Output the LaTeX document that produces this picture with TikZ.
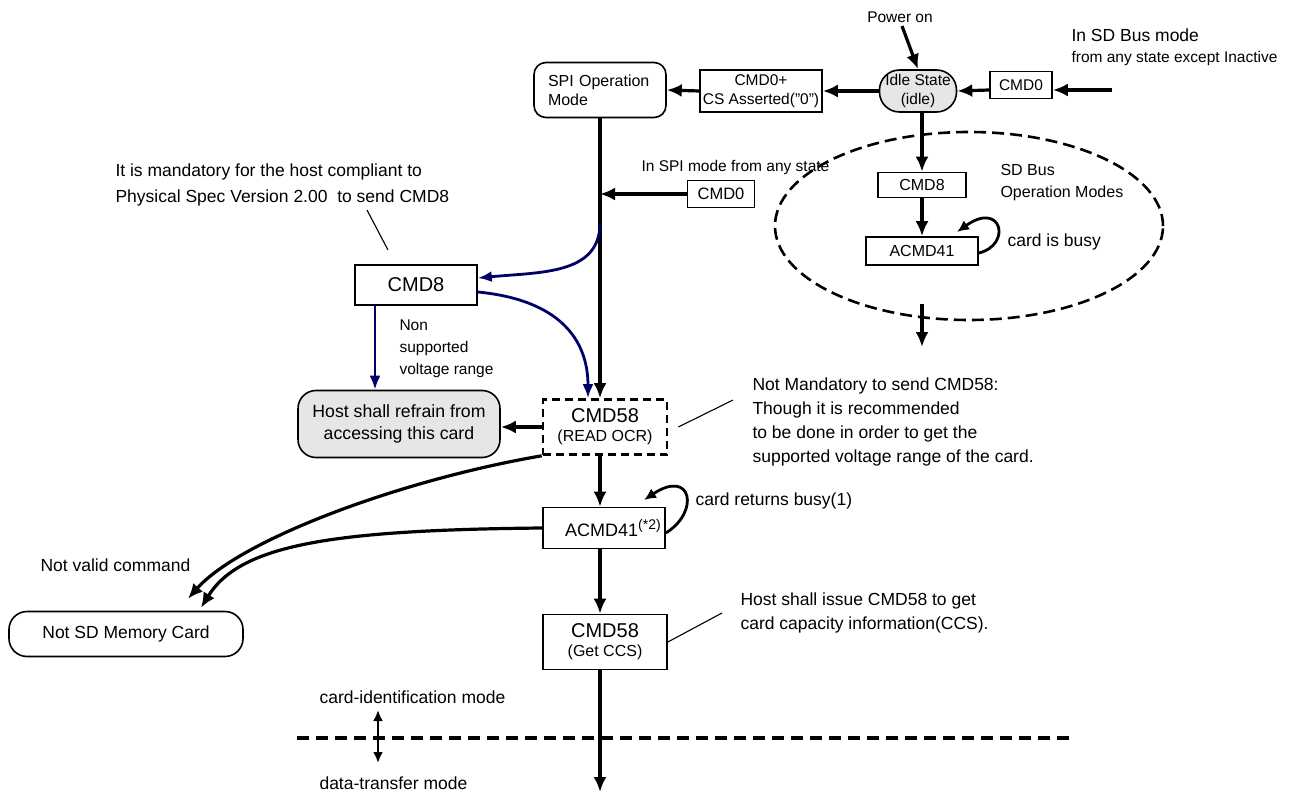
\documentclass[tikz,border=0pt]{standalone}
\usepackage{fontspec}
\setmainfont{Liberation Sans}
\usetikzlibrary{arrows.meta}

\newcommand{\szbig}{\fontsize{20}{22}\selectfont}
\newcommand{\szmid}{\fontsize{17.5}{24}\selectfont}
\newcommand{\szsmall}{\fontsize{15.5}{19}\selectfont}

\begin{document}
\begin{tikzpicture}[x=1pt, y=-1pt,
  box/.style={draw, line width=1.6pt, inner sep=0pt, align=center, font=\szsmall},
  flow/.style={line width=3.2pt, -{Latex[length=15pt, width=13pt]}},
  blueflow/.style={draw=LineNavy, line width=2.8pt, -{Latex[length=14pt, width=11pt, fill=HeadBlue]}},
  loopflow/.style={line width=2.8pt, -{Latex[length=12pt, width=11pt]}},
  pointer/.style={line width=1.1pt},
  note/.style={anchor=west, align=left, font=\szmid}]
\definecolor{LineNavy}{HTML}{000066};
\definecolor{HeadBlue}{HTML}{0000FF};
\definecolor{FaceGrey}{HTML}{E6E6E6};

\useasboundingbox (0,0) rectangle (1295,794);

% top row
\node[box, rounded corners=12pt, minimum width=132pt, minimum height=55pt, text width=104pt, align=left, font=\fontsize{16}{19}\selectfont] (spi) at (600,90) {SPI Operation\\Mode};
\node[box, minimum width=122pt, minimum height=42pt] (cmdcs) at (761,91) {CMD0+\\CS Asserted("0")};
\node[box, rounded corners=20pt, fill=FaceGrey, minimum width=77pt, minimum height=42pt] (idle) at (918,91) {Idle State\\(idle)};
\node[box, minimum width=62pt, minimum height=27pt] (sdcmd0) at (1021,85) {CMD0};
\node[font=\szsmall] (poweron) at (900,17) {Power on};
\node[anchor=west, font=\szmid] (sdmode) at (1068,35) {In SD Bus mode};
\node[anchor=west, font=\szsmall] (sdany) at (1068,58) {from any state except Inactive};
\coordinate (sdin) at (1112,90);
\coordinate (pwr) at (902,26);

\draw[flow] (pwr) -- (idle.north);
\draw[flow] (sdin) -- ([yshift=-5pt]sdcmd0.east);
\draw[flow] ([yshift=-5pt]sdcmd0.west) -- (idle.east);
\draw[flow] (idle.west) -- (cmdcs.east);
\draw[flow] (cmdcs.west) -- (spi.east);

% SD bus operation modes
\draw[line width=2.6pt, dash pattern=on 12pt off 6pt] (969,226) ellipse [x radius=194pt, y radius=94pt];
\node[box, minimum width=88pt, minimum height=25pt, font=\fontsize{16}{19}\selectfont] (sdcmd8) at (922,185) {CMD8};
\node[box, minimum width=112pt, minimum height=28pt, font=\fontsize{16}{19}\selectfont] (sdacmd) at (922,251) {ACMD41};
\node[anchor=west, align=left, font=\fontsize{16}{22}\selectfont] (sdops) at (997,183) {SD Bus\\Operation Modes};
\node[anchor=west, font=\szmid] (busy) at (1004,242) {card is busy};
\coordinate (sdout) at (922,304);
\coordinate (sdnext) at (922,347);
\coordinate (sdloop) at (957,232);

\draw[flow] (idle.south -| sdcmd8.north) -- (sdcmd8.north);
\draw[flow] (sdcmd8.south) -- (sdacmd.north);
\draw[loopflow] ([yshift=-2pt]sdacmd.east) .. controls (1012,245) and (1002,200) .. (sdloop);
\draw[flow] (sdout) -- (sdnext);

% SPI mode
\node[box, minimum width=67pt, minimum height=27pt, font=\fontsize{16.5}{19}\selectfont] (spicmd0) at (721,194) {CMD0};
\node[anchor=west, font=\szsmall] (spiany) at (638,167) {In SPI mode from any state};
\node[box, minimum width=122pt, minimum height=40pt, font=\szbig] (cmd8) at (416,285) {CMD8};
\node[note, font=\fontsize{17.5}{26}\selectfont] (mandnote) at (112,185) {It is mandatory for the host compliant to\\Physical Spec Version 2.00~ to send CMD8};
\node[box, rounded corners=18pt, fill=FaceGrey, minimum width=202pt, minimum height=67pt, font=\fontsize{17.7}{22}\selectfont] (host) at (399,424) {Host shall refrain from\\accessing this card};
\node[anchor=west, align=left, font=\fontsize{15.5}{22}\selectfont] (nonsup) at (396,349) {Non\\supported\\voltage range};
\node[box, line width=2.6pt, dash pattern=on 8pt off 5pt, minimum width=124pt, minimum height=55pt] (cmd58) at (605,427) {{\szbig CMD58}\\{\fontsize{16}{19}\selectfont (READ OCR)}};
\node[note] (optnote) at (749,422) {Not Mandatory to send CMD58:\\Though it is recommended\\to be done in order to get the\\supported voltage range of the card.};
\coordinate (split) at (600,223);
\coordinate (mandA) at (367,210);
\coordinate (mandB) at (388,250);

\draw[flow] (spicmd0.west) -- (spi.south |- spicmd0.west);
\draw[flow] (spi.south) -- (spi.south |- cmd58.north);
\draw[blueflow] (split) .. controls (600,275) and (540,272) .. ([yshift=7pt]cmd8.east);
\draw[blueflow] ([yshift=-7pt]cmd8.east) .. controls (560,300) and (588,340) .. ([xshift=-17pt]cmd58.north);
\draw[blueflow] ([xshift=-41pt]cmd8.south) -- ([xshift=-24pt]host.north);
\draw[flow] (cmd58.west) -- (cmd58.west -| host.east);
\draw[pointer] (mandA) -- (mandB);
\draw[pointer] ([xshift=10pt]cmd58.east) -- ([xshift=-16pt, yshift=22pt]optnote.west);

% ACMD41 and CCS
\node[box, minimum width=122pt, minimum height=41pt, font=\fontsize{18}{20}\selectfont] (acmd) at (604,528) {\hspace*{18pt}ACMD41\raisebox{7pt}{\fontsize{14}{14}\selectfont(*2)}};
\node[anchor=west, font=\szmid] (retbusy) at (692,501) {card returns busy(1)};
\node[box, minimum width=124pt, minimum height=55pt] (getccs) at (605,642) {{\szbig CMD58}\\{\fontsize{16}{19}\selectfont (Get CCS)}};
\node[note] (ccsnote) at (737,613) {Host shall issue CMD58 to get\\card capacity information(CCS).};
\node[anchor=west, font=\szmid] (notvalid) at (37,565) {Not valid command};
\node[box, rounded corners=18pt, minimum width=234pt, minimum height=45pt, font=\fontsize{17.5}{19}\selectfont] (notsd) at (126,634) {Not SD Memory Card};
\coordinate (acmdloop) at (644,500);
\coordinate (dataout) at (600,792);

\foreach \a/\b in {cmd58/acmd, acmd/getccs}
    \draw[flow] (spi.south |- \a.south) -- (spi.south |- \b.north);
\draw[loopflow] ([yshift=-5pt]acmd.east) .. controls (700,512) and (692,468) .. (acmdloop);
\draw[flow] (cmd58.south west) .. controls (400,480) and (240,540) .. ([xshift=62pt, yshift=12pt]notsd.north);
\draw[flow] (acmd.west) .. controls (330,530) and (240,545) .. ([xshift=75pt, yshift=3pt]notsd.north);
\draw[pointer] (getccs.east) -- ([xshift=-15pt]ccsnote.west);
\draw[flow] (spi.south |- getccs.south) -- (dataout);

% mode border
\node[anchor=west, font=\szmid] (cardid) at (316,697) {card-identification mode};
\node[anchor=west, font=\szmid] (datatr) at (316,783) {data-transfer mode};
\coordinate (modeL) at (297,738);
\coordinate (modeR) at (1075,738);
\coordinate (modeUp) at (378,710);
\coordinate (modeDown) at (378,763);
\draw[line width=4.5pt, dash pattern=on 12pt off 7pt] (modeL) -- (modeR);
\draw[line width=2.6pt, {Latex[length=11pt, width=10pt]}-{Latex[length=11pt, width=10pt]}] (modeUp) -- (modeDown);
\end{tikzpicture}
\end{document}
